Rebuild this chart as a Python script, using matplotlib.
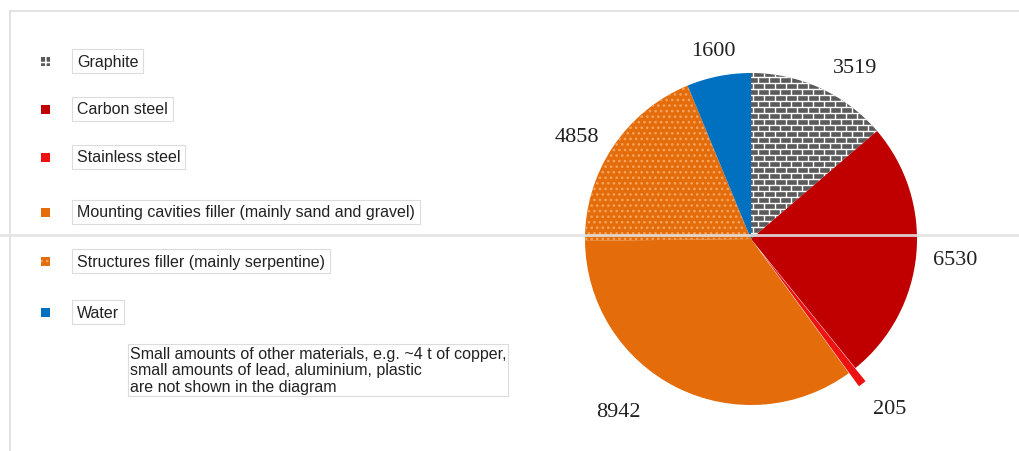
import matplotlib
matplotlib.use("Agg")
import matplotlib.pyplot as plt
import numpy as np
from matplotlib.patches import Rectangle
from matplotlib.lines import Line2D
from matplotlib.collections import LineCollection

# ---- data ----
categories = ["Graphite", "Carbon steel", "Stainless steel",
              "Mounting cavities filler (mainly sand and gravel)",
              "Structures filler (mainly serpentine)", "Water"]
values = [3519, 6530, 205, 8942, 4858, 1600]
value_labels = ["3519", "6530", "205", "8942", "4858", "1600"]
note_text = ("Small amounts of other materials, e.g. ~4 t of copper,\n"
             "small amounts of lead, aluminium, plastic\n"
             "are not shown in the diagram")

# ---- style ----
face_colors = ["#5a5a5a", "#c00000", "#ee1111", "#e46c0a", "#e46c0a", "#0070c0"]
hatches = [None, None, None, None, "...", None]
hatch_colors = [None, None, None, None, "#f6a35c", None]
explode = [0, 0, 0.10, 0, 0, 0]
label_r = [1.21, 1.235, 1.32, 1.31, 1.22, 1.16]
label_dang = [-6.5, -0.4, 1.8, -11.0, 3.0, 0.0]

plt.rcParams["hatch.linewidth"] = 1.1
W, H = 1020, 452
fig = plt.figure(figsize=(W / 100, H / 100), dpi=100)
fig.patch.set_facecolor("white")

# pie axes: centre at (751, 240) px from top, radius 166 px
R = 166.0
cx, cy = 751, H - 240
aw, ah = 520, 420
ax = fig.add_axes([(cx - aw / 2) / W, (cy - ah / 2) / H, aw / W, ah / H])

wedges, _ = ax.pie(values, startangle=90, counterclock=False, explode=explode,
                   radius=1.0, wedgeprops=dict(linewidth=0), frame=True)
ax.set_xlim(-aw / 2 / R, aw / 2 / R)
ax.set_ylim(-ah / 2 / R, ah / 2 / R)
ax.axis("off")
for w, fc, h, hc in zip(wedges, face_colors, hatches, hatch_colors):
    w.set_facecolor(fc)
    w.set_clip_on(False)
    if h:
        w.set_hatch(h)
        w.set_edgecolor(hc)
        w.set_linewidth(0)

# brick texture for the graphite wedge (decorative, clipped to the wedge)
px = 1.0 / R
row_h, brick_w = 6.0 * px, 11.0 * px
segs = []
rows = np.arange(-1.05, 1.05, row_h)
for i, yv in enumerate(rows):
    segs.append([(-1.05, yv), (1.05, yv)])
    off = (brick_w / 2) if i % 2 else 0.0
    for xv in np.arange(-1.05 + off, 1.05, brick_w):
        segs.append([(xv, yv), (xv, yv + row_h)])
lc = LineCollection(segs, colors="white", linewidths=1.0, zorder=3)
ax.add_collection(lc)
lc.set_clip_path(wedges[0])

# value labels placed around wedge mid-angles
for w, lab, r, da in zip(wedges, value_labels, label_r, label_dang):
    ang = np.deg2rad((w.theta1 + w.theta2) / 2 + da)
    ax.text(r * np.cos(ang), r * np.sin(ang), lab, ha="center", va="center",
            fontsize=16, family="Liberation Serif", color="#222222")

# ---- legend (left side) ----
leg_y = [62, 110, 158, 213, 262, 313]
for k, (cat, fc, h, hc, y) in enumerate(zip(categories, face_colors, hatches,
                                            hatch_colors, leg_y)):
    fig.patches.append(Rectangle((41 / W, (H - y - 5) / H), 9 / W, 9 / H,
                                 transform=fig.transFigure, facecolor=fc,
                                 hatch=("++" if k == 0 else h),
                                 edgecolor=("white" if k == 0 else (hc if h else fc)),
                                 linewidth=0))
    fig.text(77 / W, (H - y) / H, cat, ha="left", va="center", fontsize=11.5,
             family="Liberation Sans", color="#222222",
             bbox=dict(boxstyle="square,pad=0.3", facecolor="white",
                       edgecolor="#dcdcdc", linewidth=0.8))

fig.text(130 / W, (H - 371) / H, note_text, ha="left", va="center",
         fontsize=11.5, family="Liberation Sans", color="#222222", linespacing=1.12,
         bbox=dict(boxstyle="square,pad=0.12", facecolor="white",
                   edgecolor="#dcdcdc", linewidth=0.8))

# ---- frame lines ----
fig.add_artist(Line2D([10 / W, 1.0], [(H - 12) / H] * 2, color="#dedede", lw=1.2))
fig.add_artist(Line2D([10 / W] * 2, [0, (H - 12) / H], color="#dedede", lw=1.2))
fig.add_artist(Line2D([0, 1.0], [(H - 236) / H] * 2, color="#e2e2e2", lw=2.0,
                      alpha=0.9, zorder=10))

fig.savefig("out.png", dpi=100, facecolor="white")
